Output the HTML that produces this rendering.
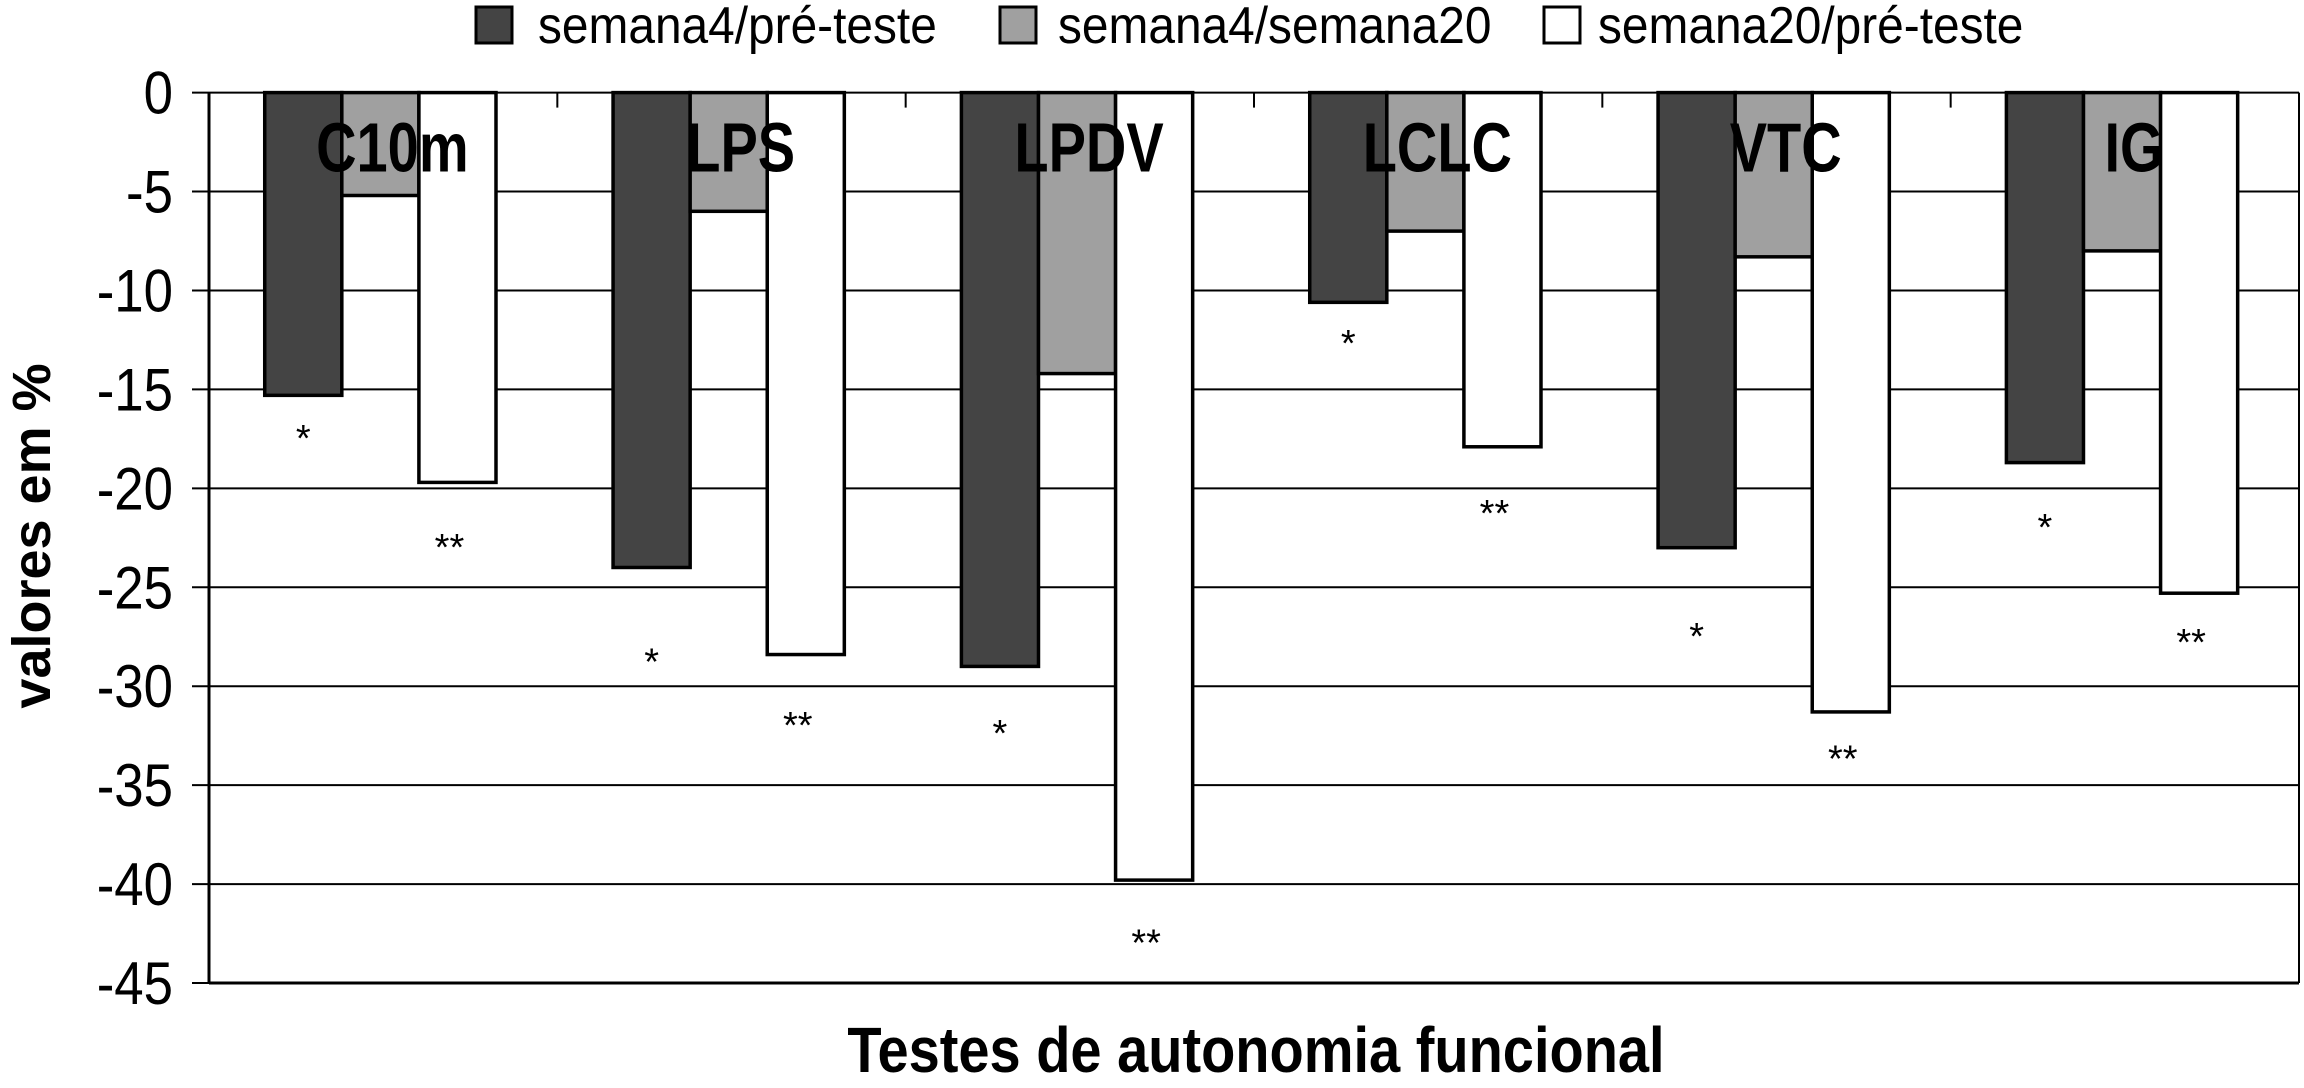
<!DOCTYPE html>
<html><head><meta charset="utf-8"><style>
html,body{margin:0;padding:0;background:#fff;}
svg{display:block;font-family:"Liberation Sans",Arial,sans-serif;}
</style></head><body>
<svg id="chart" width="2304" height="1088" viewBox="0 0 2304 1088" xmlns="http://www.w3.org/2000/svg">
<g id="legend">
 <g><rect x="476" y="7" width="36" height="36" fill="#444" stroke="#000" stroke-width="3"/><text transform="translate(538,43) scale(0.92,1)" font-size="52">semana4/pré-teste</text></g>
 <g><rect x="1000" y="7" width="36" height="36" fill="#a0a0a0" stroke="#000" stroke-width="3"/><text transform="translate(1058,43) scale(0.92,1)" font-size="52">semana4/semana20</text></g>
 <g><rect x="1544" y="7" width="36" height="36" fill="#fff" stroke="#000" stroke-width="3"/><text transform="translate(1598,43) scale(0.92,1)" font-size="52">semana20/pré-teste</text></g>
</g>
<g id="grid"></g>
<g id="bars"></g>
<g id="marks"></g>
<g id="axes"></g>
<text transform="translate(50,536) rotate(-90)" text-anchor="middle" font-size="54" font-weight="bold">valores em %</text>
<text transform="translate(1256,1072) scale(0.875,1)" text-anchor="middle" font-size="64" font-weight="bold">Testes de autonomia funcional</text>
</svg>
<script>
const categories = ["C10m","LPS","LPDV","LCLC","VTC","IG"];
const semana4PreTeste = [-15.3,-24,-29,-10.6,-23,-18.7];
const semana4Semana20 = [-5.2,-6,-14.2,-7,-8.3,-8];
const semana20PreTeste = [-19.7,-28.4,-39.8,-17.9,-31.3,-25.3];
const starPos = [-17.1,-28.4,-32,-12.3,-27.1,-21.6];
const doubleStarPos = [-22.6,-31.6,-42.6,-20.9,-33.3,-27.4];
const yTicks = [0,-5,-10,-15,-20,-25,-30,-35,-40,-45];

const NS="http://www.w3.org/2000/svg";
const L=209, R=2299, T=92.6, B=983;
const yScale=v=>T+(0-v)/45*(B-T);
const catW=(R-L)/categories.length;
const barW=catW*0.2213;
const xBar=(i,s)=>L+i*catW+catW*0.16+s*barW;
function mk(tag,attrs,parent){const e=document.createElementNS(NS,tag);for(const k in attrs)e.setAttribute(k,attrs[k]);parent.appendChild(e);return e;}
const grid=document.getElementById('grid'),bars=document.getElementById('bars'),marks=document.getElementById('marks'),axes=document.getElementById('axes');
yTicks.forEach(v=>{
 const y=yScale(v);
 const gl=mk('line',{x1:L,x2:R,y1:y,y2:y,stroke:'#000','stroke-width':2},grid);
 
 
 const tk=mk('line',{x1:L-17,x2:L,y1:y,y2:y,stroke:'#000','stroke-width':2},axes);
 
 
 const t=mk('text',{transform:'translate('+(L-36)+','+(y+21)+') scale(0.88,1)','text-anchor':'end','font-size':60},axes);
 t.textContent=v;
 
 
});
const series=[[semana4PreTeste,'#444'],[semana4Semana20,'#a0a0a0'],[semana20PreTeste,'#fff']];
categories.forEach((c,i)=>{
 series.forEach(([arr,col],s)=>{
  const y0=yScale(0),y1=yScale(arr[i]);
  const r=mk('rect',{x:xBar(i,s),y:y0,width:barW,height:y1-y0,fill:col,stroke:'#000','stroke-width':3.5},bars);
  
  
 });
 const lbl=mk('text',{transform:'translate('+(xBar(i,1)+barW/2+12)+','+(yScale(0)+79)+') scale(0.8,1)','text-anchor':'middle','font-size':70,'font-weight':'bold'},marks);
 lbl.textContent=c;
 
 
 const s1=mk('text',{x:xBar(i,0)+barW/2,y:yScale(starPos[i])+20,'text-anchor':'middle','font-size':38},marks);
 s1.textContent='*';
 
 
 const s2=mk('text',{x:xBar(i,2)+barW/2-8,y:yScale(doubleStarPos[i])+20,'text-anchor':'middle','font-size':38},marks);
 s2.textContent='**';
 
 
 if(i>0){
  const ct=mk('line',{x1:L+i*catW,x2:L+i*catW,y1:yScale(0),y2:yScale(0)+15,stroke:'#000','stroke-width':2},axes);
  
  
 }
});
const ya=mk('line',{x1:L,x2:L,y1:T,y2:B,stroke:'#000','stroke-width':3},axes);


const xa=mk('line',{x1:L,x2:R,y1:B,y2:B,stroke:'#000','stroke-width':3},axes);


const rb=mk('line',{x1:R,x2:R,y1:T,y2:B,stroke:'#000','stroke-width':2},axes);


</script>
</body></html>
